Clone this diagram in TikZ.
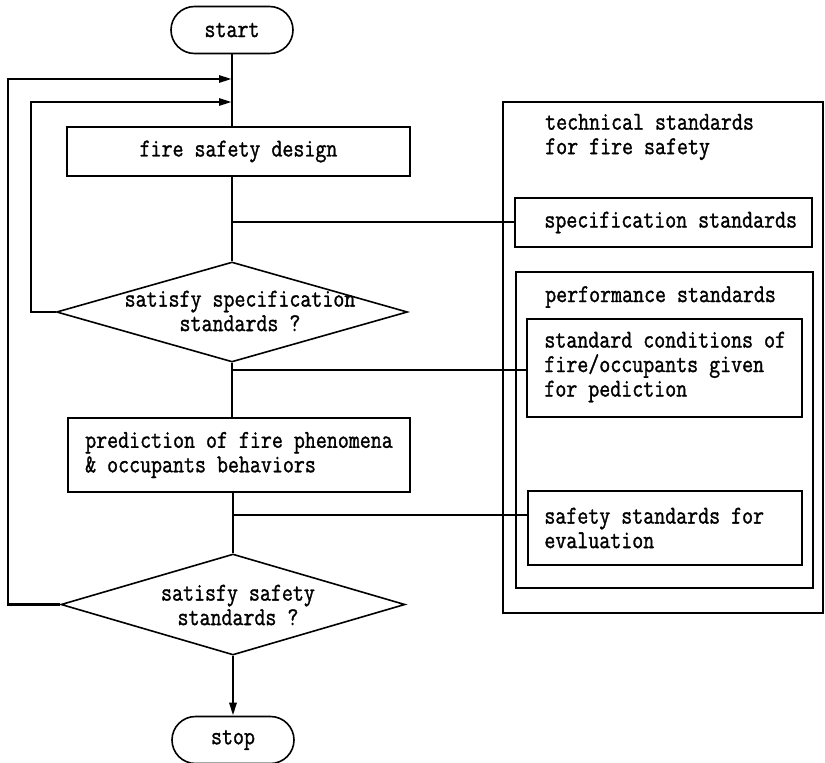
\documentclass[tikz,border=0pt]{standalone}
\usepackage{fontspec}
\setmonofont{Latin Modern Mono}[FakeStretch=0.83, FakeBold=1.2]
\usetikzlibrary{shapes.geometric,shapes.misc,arrows.meta}
\begin{document}
\begin{tikzpicture}[x=1pt,y=-1pt,
  every node/.style={font=\fontsize{25.7}{24.5}\selectfont\ttfamily},
  thinline/.style={line width=1.6pt},
  flow/.style={line width=2.6pt},
  terminal/.style={rounded rectangle, draw, thinline, minimum width=122pt, minimum height=47pt, inner sep=0pt},
  process/.style={rectangle, draw, thinline, inner sep=0pt, align=left},
  decision/.style={diamond, draw, thinline, inner sep=0pt},
  panel/.style={rectangle, draw, thinline, inner sep=0pt},
  txt/.style={inner sep=0pt, align=left, anchor=west},
  tip/.style={-{Triangle[length=13pt,width=7pt]}}
]
\useasboundingbox (0,0) rectangle (825,763);

% main flow column
\node[terminal] (start) at (232,30) {start};
\node[process, minimum width=343pt, minimum height=49pt] (design) at (238.5,151.5) {fire safety design};
\node[decision, minimum width=351pt, minimum height=100pt] (dia1) at (232,312) {};
\node[inner sep=0pt, align=center] (dia1txt) at (240,311) {satisfy specification\\standards ?};
\node[process, minimum width=342pt, minimum height=74pt] (predict) at (239,455) {prediction of fire phenomena\\\& occupants behaviors};
\node[decision, minimum width=344pt, minimum height=101pt] (dia2) at (233,604.5) {};
\node[inner sep=0pt, align=center] (dia2txt) at (238,605) {satisfy safety\\standards ?};
\node[terminal] (stop) at (233,740) {stop};

% standards panel
\node[panel, minimum width=320pt, minimum height=511pt] (outer) at (663,357.5) {};
\node[txt] (title) at (545,137) {technical standards\\for fire safety};
\node[panel, minimum width=297pt, minimum height=49pt] (spec) at (663.5,222.5) {};
\node[txt] (spectxt) at ([xshift=30pt]spec.west) {specification standards};
\node[panel, minimum width=297pt, minimum height=316pt] (perf) at (664.5,430) {};
\node[txt] (perftxt) at (545,297) {performance standards};
\node[panel, minimum width=275pt, minimum height=98pt] (cond) at (664.5,368) {};
\node[txt] (condtxt) at ([xshift=18pt,yshift=1pt]cond.west) {standard conditions of\\fire/occupants given\\for pediction};
\node[panel, minimum width=274pt, minimum height=74pt] (safe) at (665,528) {};
\node[txt] (safetxt) at ([xshift=17pt]safe.west) {safety standards for\\evaluation};

% junction and loop points
\coordinate (m0) at (232,79);
\coordinate (m1) at (232,102);
\coordinate (j1) at (232,222);
\coordinate (j2) at (232,370);
\coordinate (j3) at (232,515);
\coordinate (loopA) at (31,0);
\coordinate (loopB) at (8,0);

% main connectors
\draw[flow] (start.south) -- (start.south |- design.north);
\draw[flow] (dia1.north |- design.south) -- (dia1.north);
\draw[flow] (dia1.south) -- (dia1.south |- predict.north);
\draw[flow] (dia2.north |- predict.south) -- (dia2.north);
\draw[flow,tip] (dia2.south) -- (stop.north);

% loops back to the design step
\draw[flow,tip] (dia1.west) -| (loopA |- m1) -- (m1);
\draw[flow,tip] (dia2.west) -| (loopB |- m0) -- (m0);

% links to the standards
\draw[flow] (j1) -- (j1 -| spec.west);
\draw[flow] (j2) -- (j2 -| cond.west);
\draw[flow] (j3) -- (j3 -| safe.west);
\end{tikzpicture}
\end{document}
